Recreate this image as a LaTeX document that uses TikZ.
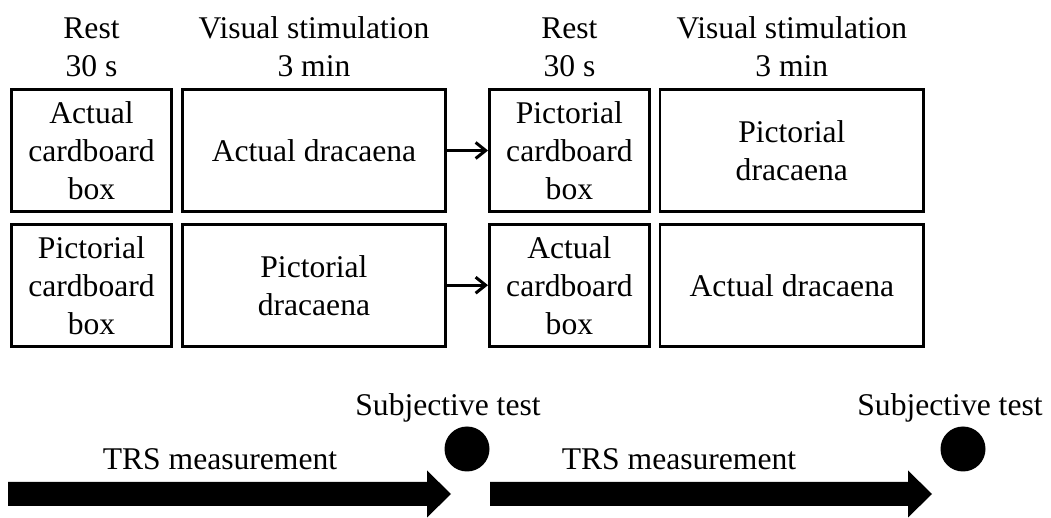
\documentclass[tikz,border=0pt]{standalone}
\usepackage{fontspec}
\setmainfont{Liberation Serif}
\usetikzlibrary{arrows.meta,positioning}

\begin{document}
\begin{tikzpicture}[
    x=0.5pt, y=-0.5pt,
    node distance=4pt,
    every node/.style={font=\fontsize{15.8}{19}\selectfont},
    cond/.style={draw, line width=1.35pt, align=center, minimum height=61pt, inner sep=0pt},
    rest/.style={cond, minimum width=80pt},
    stim/.style={cond, minimum width=131.75pt},
    head/.style={align=center, inner sep=0pt},
    arrow/.style={-{Straight Barb[length=5pt,width=8pt]}, line width=1.5pt},
    test/.style={circle, fill, minimum size=22.5pt, inner sep=0pt}
]
\useasboundingbox (0,0) rectangle (1051,518);
% first order
\node[rest] (a1) at (91.5,150.5) {Actual\\cardboard\\box};
\node[stim, right=of a1] (a2) {Actual dracaena};
\node[rest, right=20.5pt of a2] (a3) {Pictorial\\cardboard\\box};
\node[stim, right=of a3] (a4) {Pictorial\\dracaena};
% second order
\node[rest, below=5pt of a1] (b1) {Pictorial\\cardboard\\box};
\node[stim, right=of b1] (b2) {Pictorial\\dracaena};
\node[rest, right=20.5pt of b2] (b3) {Actual\\cardboard\\box};
\node[stim, right=of b3] (b4) {Actual dracaena};
% headers
\node[head, above=5.5pt of a1] (h1) {Rest\\30 s};
\node[head, above=5.5pt of a2] (h2) {Visual stimulation\\3 min};
\node[head, above=5.5pt of a3] (h3) {Rest\\30 s};
\node[head, above=5.5pt of a4] (h4) {Visual stimulation\\3 min};
\draw[arrow] (a2) -- (a3);
\draw[arrow] (b2) -- (b3);
% timeline
\node[test] (t1) at (467,449) {};
\node[test] (t2) at (963,449) {};
\node (s1) at (448,408) {Subjective test};
\node (s2) at (950,408) {Subjective test};
\node (m1) at (220,459) {TRS measurement};
\node (m2) at (679,459) {TRS measurement};
\fill (8,482) -- (427,482) -- (427,470.5) -- (451,494) -- (427,517.5) -- (427,506) -- (8,506) -- cycle;
\fill (490,482) -- (908,482) -- (908,470.5) -- (932,494) -- (908,517.5) -- (908,506) -- (490,506) -- cycle;
\end{tikzpicture}
\end{document}
